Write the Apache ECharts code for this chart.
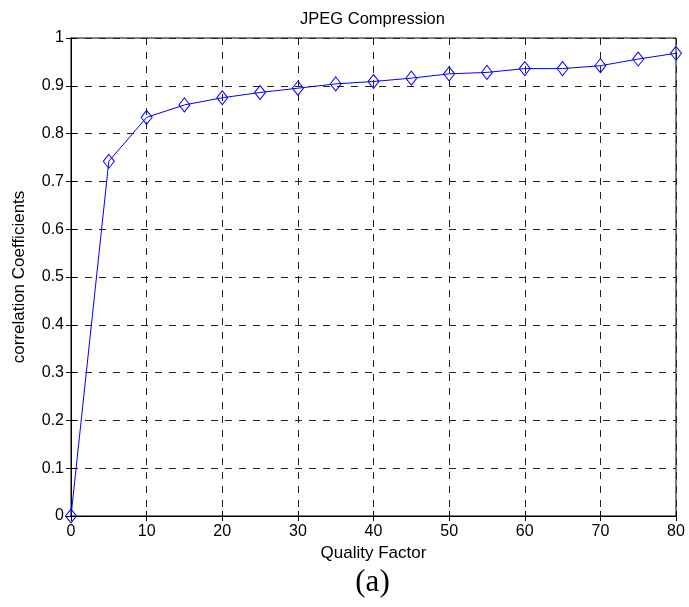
<!DOCTYPE html>
<html><head><meta charset="utf-8">
<script src="https://cdn.jsdelivr.net/npm/echarts@6/dist/echarts.min.js"></script>
<style>html,body{margin:0;padding:0;background:#fff}#c{width:689px;height:607px}</style>
</head><body><div id="c"></div>
<script>
const qualityFactor = [0,5,10,15,20,25,30,35,40,45,50,55,60,65,70,75,80];
const correlation = [0,0.742,0.834,0.860,0.875,0.886,0.895,0.904,0.909,0.916,0.925,0.928,0.936,0.936,0.942,0.956,0.968];
const chart = echarts.init(document.getElementById('c'));
const font = '"Liberation Sans", Arial, sans-serif';
const dashed = {show:true, lineStyle:{color:'#222', type:[7,7], width:1}};
const tick = {show:true, inside:true, length:5, lineStyle:{color:'#000'}};
chart.setOption({
  animation:false,
  backgroundColor:'#fff',
  graphic:[
    {type:'text', x:372.5, y:19,
      style:{text:'JPEG Compression', font:'16.5px ' + font, fill:'#000', align:'center', verticalAlign:'middle'}},
    {type:'text', x:372.5, y:583,
      style:{text:'(a)', font:'31px "Liberation Serif", "Times New Roman", serif', fill:'#000', align:'center', verticalAlign:'middle'}}
  ],
  grid:{left:71, right:13, top:38, bottom:91, containLabel:false, outerBoundsMode:'none',
    show:true, borderColor:'#000', borderWidth:1},
  xAxis:[{type:'value', min:0, max:80, interval:10,
    name:'Quality Factor', nameLocation:'middle', nameGap:29,
    nameTextStyle:{fontFamily:font, fontSize:17, color:'#000'},
    axisLine:{show:true, lineStyle:{color:'#000'}},
    axisTick:tick,
    axisLabel:{fontFamily:font, fontSize:16, color:'#000', margin:8},
    splitLine:dashed},
   {type:'value', position:'top', min:0, max:80, interval:10,
    axisLine:{show:true, lineStyle:{color:'#000'}}, axisTick:tick,
    axisLabel:{show:false}, splitLine:{show:false}}],
  yAxis:[{type:'value', min:0, max:1, interval:0.1,
    name:'correlation Coefficients', nameLocation:'middle', nameGap:43,
    nameTextStyle:{fontFamily:font, fontSize:17, color:'#000'},
    axisLine:{show:true, lineStyle:{color:'#000'}},
    axisTick:tick,
    axisLabel:{fontFamily:font, fontSize:16, color:'#000', margin:7,
      formatter:v=>String(Math.round(v*10)/10)},
    splitLine:dashed},
   {type:'value', position:'right', min:0, max:1, interval:0.1,
    axisLine:{show:true, lineStyle:{color:'#000'}}, axisTick:tick,
    axisLabel:{show:false}, splitLine:{show:false}}],
  series:[{type:'line', xAxisIndex:0, yAxisIndex:0,
    data:qualityFactor.map((x,i)=>[x,correlation[i]]),
    symbol:'diamond', symbolSize:[11,14], showSymbol:true,
    lineStyle:{color:'#0000ff', width:1},
    itemStyle:{color:'rgba(0,0,0,0)', borderColor:'#0000ff', borderWidth:1},
    clip:false}]
});
</script></body></html>
